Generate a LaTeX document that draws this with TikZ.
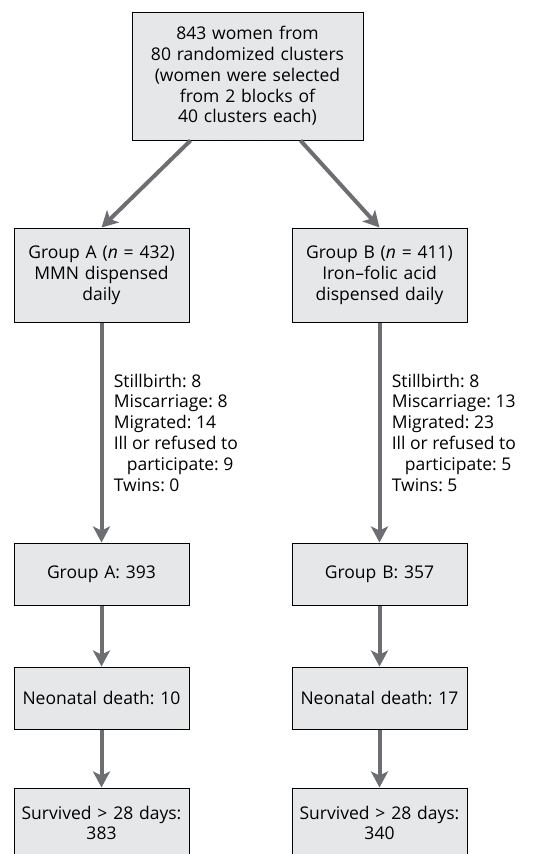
\documentclass[tikz,border=0pt]{standalone}
\usepackage{fontspec}
\setmainfont{Open Sans}
\usetikzlibrary{arrows.meta,positioning}
\definecolor{boxgray}{HTML}{E6E7E8}
\definecolor{arrowgray}{HTML}{6D6E71}
\tikzset{
  studybox/.style={
    draw=black,
    fill=boxgray,
    line width=1pt,
    align=center,
    text width=171pt,
    minimum width=175pt,
    inner xsep=2pt,
    font=\fontsize{17.5}{20.8}\selectfont
  },
  groupbox/.style={
    studybox,
    minimum height=94pt
  },
  countbox/.style={
    studybox,
    minimum height=62pt
  },
  flowarrow/.style={
    -{Stealth[length=16pt,width=17pt,inset=4pt]},
    line width=4pt,
    draw=arrowgray
  },
  lossnote/.style={
    right=7pt,
    align=left,
    text=black,
    font=\fontsize{17.5}{20.8}\selectfont
  }
}
\frenchspacing

\begin{document}
\begin{tikzpicture}[node distance=61pt and 102pt]
    \useasboundingbox (0,0) rectangle (536pt,-854pt);
    \clip (0,0) rectangle (536pt,-854pt);

    \node[studybox, text width=225pt, minimum width=231pt, minimum height=128pt] (pool) at (247.5pt,-76pt) {
        843 women from\\
        80 randomized clusters\\
        (women were selected\\
        from 2 blocks of\\
        40 clusters each)
    };
    \node[groupbox] (grpA) at (101.5pt,-275pt) {
        Group A (\textit{n} = 432)\\
        MMN dispensed\\
        daily
    };
    \node[groupbox, right=of grpA] (grpB) {
        Group B (\textit{n} = 411)\\
        Iron–folic acid\\
        dispensed daily
    };
    \node[countbox, below=220pt of grpA] (keptA) {Group A: 393};
    \node[countbox, below=220pt of grpB] (keptB) {Group B: 357};
    \node[countbox, below=of keptA] (deathA) {Neonatal death: 10};
    \node[countbox, below=of keptB] (deathB) {Neonatal death: 17};
    \node[countbox, minimum height=70pt, below=58pt of deathA] (aliveA) {
        Survived > 28 days:\\
        383
    };
    \node[countbox, minimum height=70pt, below=58pt of deathB] (aliveB) {
        Survived > 28 days:\\
        340
    };

    \draw[flowarrow] ([xshift=-57pt]pool.south) -- (grpA.north);
    \draw[flowarrow] ([xshift=53pt]pool.south) -- (grpB.north);
    \draw[flowarrow] (grpA) -- node[lossnote] {
        Stillbirth: 8\\
        Miscarriage: 8\\
        Migrated: 14\\
        Ill or refused to\\
        \hspace{13pt}participate: 9\\
        Twins: 0
    } (keptA);
    \draw[flowarrow] (grpB) -- node[lossnote] {
        Stillbirth: 8\\
        Miscarriage: 13\\
        Migrated: 23\\
        Ill or refused to\\
        \hspace{13pt}participate: 5\\
        Twins: 5
    } (keptB);
    \draw[flowarrow] (keptA) -- (deathA);
    \draw[flowarrow] (keptB) -- (deathB);
    \draw[flowarrow] (deathA) -- (aliveA);
    \draw[flowarrow] (deathB) -- (aliveB);
\end{tikzpicture}
\end{document}
